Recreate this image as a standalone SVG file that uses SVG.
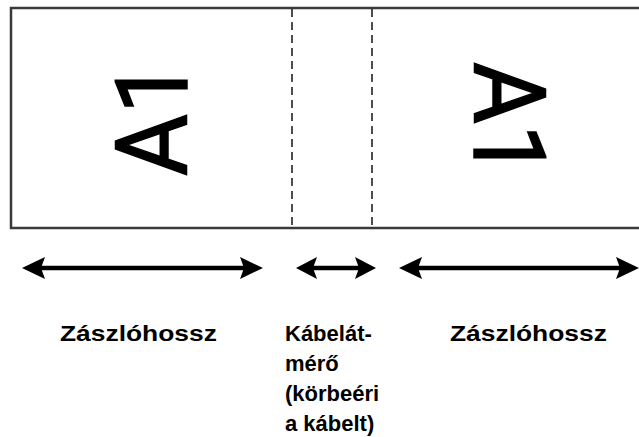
<svg xmlns="http://www.w3.org/2000/svg" width="639" height="437" viewBox="0 0 639 437">
<defs>
<style>
.frame{fill:#fff;stroke:#3a3a3a;stroke-width:2.5}
.dash{stroke:#222;stroke-width:1.6;stroke-dasharray:8 5;fill:none}
.big{font-family:Roboto,"Liberation Sans",Arial,sans-serif;font-size:100px;fill:#000;stroke:#000;stroke-width:1.5}
.lbl{font-family:"Liberation Sans",Arial,sans-serif;font-size:22px;font-weight:bold;fill:#000}
.shaft{stroke:#000;stroke-width:4.5;fill:none}
.head{fill:#000}
</style>
</defs>
<rect width="639" height="437" fill="#fff"/>
<g id="label-strip">
<rect class="frame" x="11" y="8" width="640" height="220"/>
</g>
<g id="fold-lines">
<line class="dash" x1="292" y1="9" x2="292" y2="228"/>
<line class="dash" x1="372" y1="9" x2="372" y2="228"/>
</g>
<g id="text-left">
<text class="big" transform="translate(187,176) rotate(-90) scale(0.95,1)">A1</text>
</g>
<g id="text-right">
<text class="big" transform="translate(474,62) rotate(90) scale(0.95,1)">A1</text>
</g>
<g id="connectors">
<line class="shaft" x1="38" y1="268" x2="247" y2="268"/>
<path class="head" d="M22,268 L45,257 L41,268 L45,279 Z"/>
<path class="head" d="M263,268 L240,257 L244,268 L240,279 Z"/>
<line class="shaft" x1="310" y1="268" x2="362" y2="268"/>
<path class="head" d="M296,268 L317,257 L313,268 L317,279 Z"/>
<path class="head" d="M376,268 L355,257 L359,268 L355,279 Z"/>
<line class="shaft" x1="415" y1="268" x2="623" y2="268"/>
<path class="head" d="M399,268 L422,257 L418,268 L422,279 Z"/>
<path class="head" d="M639,268 L616,257 L620,268 L616,279 Z"/>
</g>
<g id="label-flag-left">
<text class="lbl" transform="translate(60,341) scale(1.2,1)">Zászlóhossz</text>
</g>
<g id="label-cable">
<text class="lbl" x="285" y="341">Kábelát-</text>
<text class="lbl" x="285" y="371">mérő</text>
<text class="lbl" x="285" y="401">(körbeéri</text>
<text class="lbl" x="285" y="431">a kábelt)</text>
</g>
<g id="label-flag-right">
<text class="lbl" transform="translate(450,341) scale(1.2,1)">Zászlóhossz</text>
</g>
</svg>
